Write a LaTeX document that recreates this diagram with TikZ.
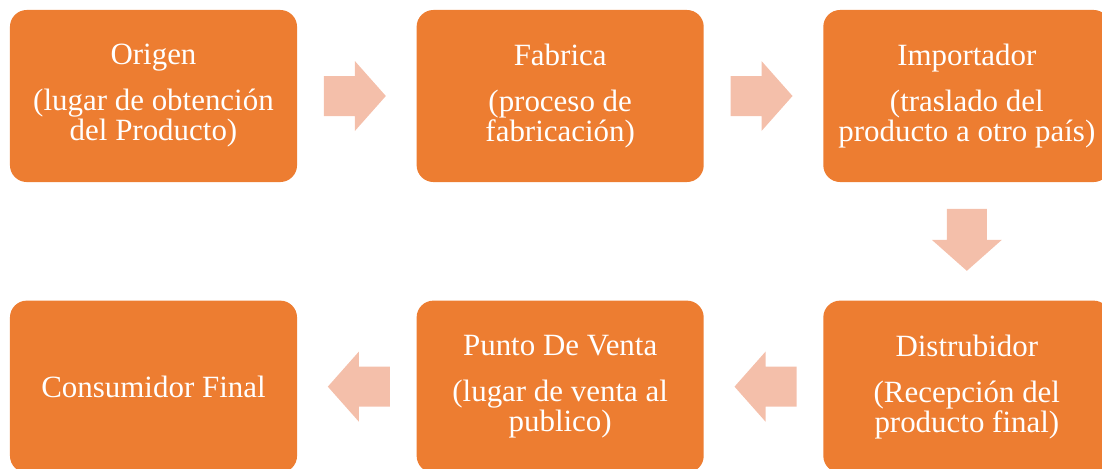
\documentclass[tikz,border=0pt]{standalone}
\usepackage{fontspec}
\setmainfont{Liberation Serif}
\usetikzlibrary{positioning}
\usetikzlibrary{calc}
\definecolor{naranja}{RGB}{237,125,49}
\definecolor{rosa}{RGB}{244,191,170}

\begin{document}
\begin{tikzpicture}[
        x=0.025cm, y=-0.025cm,
        node distance={2.95cm and 2.975cm},
        caja/.style={rectangle, rounded corners=0.42cm, fill=naranja, text=white, minimum width=7.175cm, minimum height=4.3cm, inner sep=0pt, align=center, font=\fontsize{22}{21.3}\selectfont},
        flecha/.pic={\fill[rosa] (-31,-20) -- (0,-20) -- (0,-35) -- (31,0) -- (0,35) -- (0,20) -- (-31,20) -- cycle;},
        ]
            \useasboundingbox (0,0) rectangle (1102,468);

            % fila de arriba
            \node[caja] (orig) at (153.5,96) {Origen\\[11.4pt]
                                             (lugar de obtención\\
                                             del Producto)};
            \node[caja, right=of orig] (fab) {Fabrica\\[11.4pt]
                                             (proceso de\\
                                             fabricación)};
            \node[caja, right=of fab] (imp) {Importador\\[11.4pt]
                                            (traslado del\\
                                            producto a otro país)};

            % fila de abajo
            \node[caja, below=of imp] (dist) {Distrubidor\\[11.4pt]
                                             (Recepción del\\
                                             producto final)};
            \node[caja, left=of dist] (pv) {Punto De Venta\\[11.4pt]
                                           (lugar de venta al\\
                                           publico)};
            \node[caja, left=of pv] (cons) {Consumidor Final};

            % flechas
            \pic at ($(orig)!0.5!(fab)+(-2,0)$) {flecha};
            \pic at ($(fab)!0.5!(imp)+(-2,0)$) {flecha};
            \pic[rotate=-90] at ($(imp)!0.5!(dist)+(0,-1.5)$) {flecha};
            \pic[rotate=180] at ($(dist)!0.5!(pv)+(2,0)$) {flecha};
            \pic[rotate=180] at ($(pv)!0.5!(cons)+(2,0)$) {flecha};
        \end{tikzpicture}
\end{document}
